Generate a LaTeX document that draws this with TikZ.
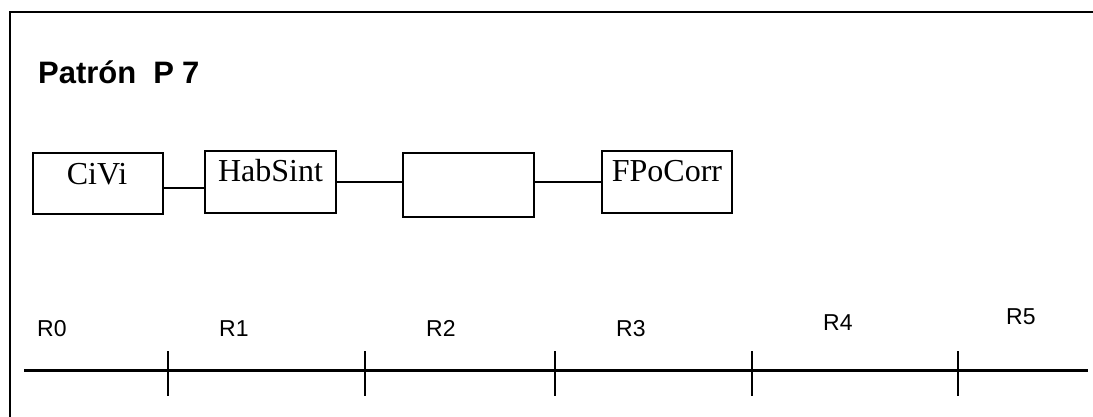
\documentclass[tikz,border=0pt]{standalone}
\usepackage{fontspec}
\setmainfont{Liberation Serif}
\newfontfamily\arialfont{Liberation Sans}
\begin{document}
\begin{tikzpicture}[x=1pt,y=-1pt,
  frameline/.style={line width=2.6pt,black},
  box/.style={draw,line width=2.6pt,inner sep=0pt,anchor=center},
  boxtext/.style={anchor=base,inner sep=0pt,font=\fontsize{32}{33}\selectfont},
  conn/.style={line width=2.6pt},
  axisline/.style={line width=3pt},
  tick/.style={line width=2.8pt},
  rlabel/.style={anchor=base west,inner sep=0pt,font=\arialfont\fontsize{23}{24}\selectfont},
  title/.style={anchor=base west,inner sep=0pt,font=\arialfont\bfseries\fontsize{31}{33}\selectfont}]
\useasboundingbox (0,0) rectangle (1093,417);
% frame
\coordinate (ftl) at (10,12);
\coordinate (ftr) at (1093,12);
\coordinate (fbl) at (10,417);
\draw[frameline] (ftr) -- (ftl) -- (fbl);
% title
\node[title] (ttl) at (38,84) {Patrón\hspace{17pt}P\hspace{8pt}7};
% boxes
\node[box,minimum width=130,minimum height=61] (b1) at (98,183.5) {};
\node[box,minimum width=131,minimum height=62] (b2) at (270.5,182) {};
\node[box,minimum width=131,minimum height=64] (b3) at (468.5,185) {};
\node[box,minimum width=130,minimum height=62] (b4) at (667,182) {};
\node[boxtext] (t1) at (97,185) {CiVi};
\node[boxtext] (t2) at (270.5,182) {HabSint};
\node[boxtext] (t4) at (667,182) {FPoCorr};
% connectors
\draw[conn] (b1.east |- 0,188) -- (b2.west |- 0,188);
\draw[conn] (b2.east |- 0,182) -- (b3.west |- 0,182);
\draw[conn] (b3.east |- 0,182) -- (b4.west |- 0,182);
% axis
\coordinate (a0) at (24,370);
\coordinate (a1) at (1088,370);
\draw[axisline] (a0) -- (a1);
\foreach \x/\n in {168/k1,365/k2,555/k3,752/k4,958/k5}{
  \coordinate (\n t) at (\x,351);
  \coordinate (\n b) at (\x,396);
  \draw[tick] (\n t) -- (\n b);
}
% labels
\node[rlabel] (r0) at (37,336) {R0};
\node[rlabel] (r1) at (219,336) {R1};
\node[rlabel] (r2) at (426,336) {R2};
\node[rlabel] (r3) at (616,336) {R3};
\node[rlabel] (r4) at (823,330) {R4};
\node[rlabel] (r5) at (1006,324) {R5};
\end{tikzpicture}
\end{document}
